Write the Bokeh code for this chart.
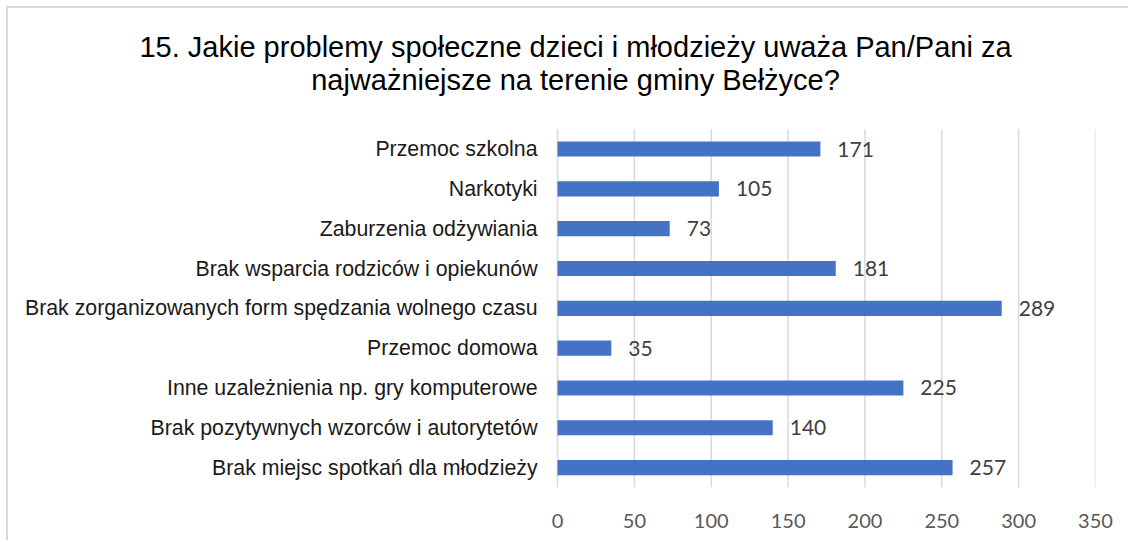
from bokeh.plotting import figure
from bokeh.models import ColumnDataSource, LabelSet, Label, Range1d, FixedTicker
from bokeh.core.properties import value
from bokeh.embed import file_html
from bokeh.resources import INLINE

categories = [
    "Przemoc szkolna",
    "Narkotyki",
    "Zaburzenia odżywiania",
    "Brak wsparcia rodziców i opiekunów",
    "Brak zorganizowanych form spędzania wolnego czasu",
    "Przemoc domowa",
    "Inne uzależnienia np. gry komputerowe",
    "Brak pozytywnych wzorców i autorytetów",
    "Brak miejsc spotkań dla młodzieży",
]
values = [171, 105, 73, 181, 289, 35, 225, 140, 257]
x_ticks = [0, 50, 100, 150, 200, 250, 300, 350]
title_lines = ["15. Jakie problemy społeczne dzieci i młodzieży uważa Pan/Pani za",
               "najważniejsze na terenie gminy Bełżyce?"]

n = len(categories)
ypos = [n - 1 - i for i in range(n)]  # first category at the top
src = ColumnDataSource(dict(y=ypos, val=values, lab=[str(v) for v in values],
                            cat=categories, zero=[0] * n))

# the frame covers the whole chart area so that the texts drawn in it are not clipped
p = figure(
    width=1122, height=534,
    y_range=Range1d(-0.5, 11.53),
    x_range=Range1d(-357.2, 350),
    output_backend="svg", toolbar_location=None,
    min_border_left=0, min_border_right=35,
    min_border_top=0, min_border_bottom=55,
)
p.styles = {"margin-left": "6px", "margin-top": "6px",
            "border-left": "2px solid #d9d9d9", "border-top": "2px solid #d9d9d9"}

# vertical gridlines only across the category area
p.segment(x0=x_ticks, x1=x_ticks, y0=[-0.5] * len(x_ticks), y1=[n - 0.5] * len(x_ticks),
          line_color="#d9d9d9", line_width=1.5)

p.hbar(y="y", right="val", left=0, height=0.38, source=src,
       fill_color="#4472C4", line_color=None)

values_labels = LabelSet(x="val", y="y", text="lab", source=src, x_offset=17,
                         text_align="left", text_baseline="middle",
                         text_font=value("Lato"), text_font_size=value("21px"),
                         text_color="#404040")
p.add_layout(values_labels)

category_labels = LabelSet(x="zero", y="y", text="cat", source=src, x_offset=-20,
                           text_align="right", text_baseline="middle",
                           text_font=value("Liberation Sans"), text_font_size=value("21.3px"),
                           text_color="#1a1a1a")
p.add_layout(category_labels)

for i, line in enumerate(title_lines):
    p.add_layout(Label(x=567, y=[441, 408][i], x_units="screen", y_units="screen",
                       text=line, text_align="center", text_baseline="alphabetic",
                       text_font="Liberation Sans", text_font_size="29px",
                       text_color="#000000"))

p.xaxis.ticker = FixedTicker(ticks=x_ticks)
p.xaxis.axis_line_color = None
p.xaxis.major_tick_line_color = None
p.xaxis.minor_tick_line_color = None
p.xaxis.major_label_text_font = "Lato"
p.xaxis.major_label_text_font_size = "20px"
p.xaxis.major_label_text_color = "#595959"
p.xaxis.major_label_standoff = 20

p.yaxis.visible = False
p.xgrid.grid_line_color = None
p.ygrid.grid_line_color = None
p.outline_line_color = None
p.background_fill_color = "white"
p.border_fill_color = "white"

open("out.html", "w").write(file_html(p, INLINE))
